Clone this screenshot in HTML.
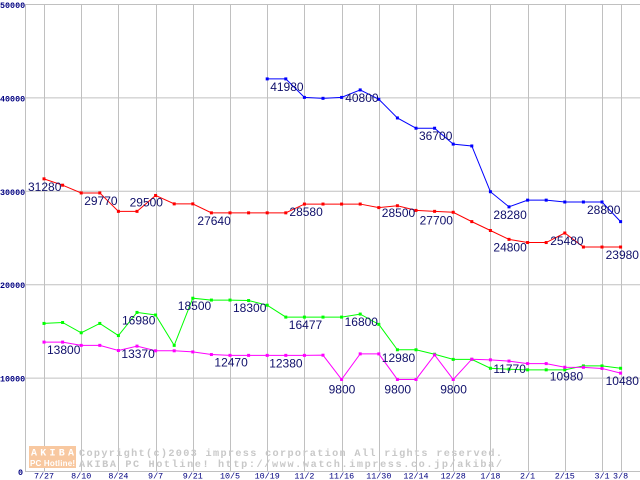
<!DOCTYPE html>
<html><head><meta charset="utf-8"><style>
html,body{margin:0;padding:0;background:#fff;}
svg{display:block;}
.lbl{font-family:"Liberation Sans",sans-serif;font-size:12px;fill:#10106a;}
.ytk{font-family:"Liberation Mono",monospace;font-size:8.4px;font-weight:bold;fill:#000080;}
.xtk{font-family:"Liberation Mono",monospace;font-size:8.4px;fill:#000080;}
.wm{font-family:"Liberation Mono",monospace;font-size:10.2px;font-weight:bold;fill:#c8c8c8;}
</style></head><body>
<svg id="chart" width="640" height="480" viewBox="0 0 640 480" xmlns="http://www.w3.org/2000/svg">
<g id="grid"></g>
<g id="wmark">
<rect x="29" y="446" width="47" height="11" fill="#f8c8a0"/>
<rect x="29" y="457" width="47" height="11" fill="#f8c8a0"/>
<text x="31" y="455.5" font-family="Liberation Mono,monospace" font-size="10px" font-weight="bold" fill="#fff" textLength="43">AKIBA</text>
<text x="30" y="466" font-family="Liberation Sans,sans-serif" font-size="8px" font-weight="bold" fill="#fff" textLength="45">PC Hotline!</text>
<text class="wm" x="79" y="456" textLength="423">Copyright(c)2003 impress corporation All rights reserved.</text>
<text class="wm" x="79" y="467" textLength="423">AKIBA PC Hotline!  http://www.watch.impress.co.jp/akiba/</text>
</g>
<g id="series"></g>
<g id="labels"></g>
</svg>
<script>
const categories=["7/27","","8/10","","8/24","","9/7","","9/21","","10/5","","10/19","","11/2","","11/16","","11/30","","12/14","","12/28","","1/18","","2/1","","2/15","","3/1","3/8"];
const xTickLabels=["7/27","8/10","8/24","9/7","9/21","10/5","10/19","11/2","11/16","11/30","12/14","12/28","1/18","2/1","2/15","3/1","3/8"];
const xTickIdx=[0,2,4,6,8,10,12,14,16,18,20,22,24,26,28,30,31];
const yTicks=[0,10000,20000,30000,40000,50000];
const blue=[null,null,null,null,null,null,null,null,null,null,null,null,41980,41980,40000,39900,40000,40800,39800,37800,36700,36700,35000,34800,29900,28280,29000,29000,28800,28800,28800,26700];
const red=[31280,30600,29770,29770,27800,27800,29500,28600,28600,27640,27640,27640,27640,27640,28580,28580,28580,28580,28200,28400,27900,27800,27700,26700,25750,24800,24460,24460,25480,23980,23980,23980];
const green=[15800,15900,14800,15800,14500,16980,16700,13450,18500,18300,18300,18250,17750,16477,16477,16477,16477,16800,15700,12980,12980,12500,11950,11950,11000,10900,10830,10830,10830,11250,11250,11000];
const magenta=[13800,13800,13450,13450,12900,13370,12870,12870,12750,12470,12380,12380,12380,12380,12380,12400,9800,12540,12540,9800,9800,12430,9800,11970,11900,11770,11500,11500,11110,11100,10980,10480];
const labelText=["31280","29770","29500","27640","28580","41980","40800","36700","28500","27700","24800","28280","25480","28800","23980","13800","16980","18500","18300","16477","13370","12470","12380","16800","12980","9800","9800","9800","11770","10980","10480"];
const labelIdx=[0,2,6,9,14,12,17,20,18,21,24,24,27,30,31,0,5,8,10,13,4,9,12,16,18,16,19,22,24,28,31];
const labelVal=[31280,29770,29500,27640,28580,41980,40800,36700,28500,27700,24800,28280,25480,28800,23980,13800,16980,18500,18300,16477,13370,12470,12380,16800,12980,9800,9800,9800,11770,10980,10480];
const labelDx=[-16,3,-26,-14,-15,3,-15,3,3,-15,3,3,4,-15,-15,3,-15,-15,3,3,3,3,2,3,3,-13,-13,-13,3,-15,-15];
const labelDy=[12,12,11,12,12,12,12,12,12,12,12,12,12,12,12,12,12,12,12,12,12,12,12,12,12,14,14,14,12,12,12];

const NS="http://www.w3.org/2000/svg";
const X0=44,STEP=18.6,Y0=471,YS=467/50000;
function xs(i){return X0+i*STEP;}
function ys(v){return Y0-v*YS;}
function mk(tag,attrs,parent){const e=document.createElementNS(NS,tag);for(const k in attrs)e.setAttribute(k,attrs[k]);parent.appendChild(e);return e;}
const grid=document.getElementById('grid');
yTicks.forEach(v=>{
  const l=mk('line',{x1:25,x2:640,y1:ys(v)+0.5,y2:ys(v)+0.5,stroke:'#c0c0c0','stroke-width':1},grid);
  
  
  const t=mk('text',{x:v===0?18:0,y:ys(v)+4,class:'ytk'},grid);
  t.textContent=String(v);
  
  
});
const ax=mk('line',{x1:25.5,x2:25.5,y1:4,y2:471,stroke:'#c0c0c0','stroke-width':1},grid);


xTickIdx.forEach((i,k)=>{
  const l=mk('line',{x1:Math.round(xs(i))+0.5,x2:Math.round(xs(i))+0.5,y1:4,y2:471,stroke:'#c0c0c0','stroke-width':1},grid);
  
  
  const t=mk('text',{x:xs(i),y:478.5,'text-anchor':'middle',class:'xtk'},grid);
  t.textContent=xTickLabels[k];
  
  
});
const sg=document.getElementById('series');
function drawSeries(data,color,name){
  let d='';let started=false;
  data.forEach((v,i)=>{if(v==null)return;d+=(started?'L':'M')+xs(i)+' '+ys(v);started=true;});
  const p=mk('path',{d:d,fill:'none',stroke:color,'stroke-width':1},sg);
  
  
  data.forEach((v,i)=>{if(v==null)return;
    const r=mk('rect',{x:xs(i)-1.5,y:ys(v)-1.5,width:3,height:3,fill:color},sg);
    
    
  });
}
drawSeries(blue,'#0000ff','blue-series');
drawSeries(red,'#ff0000','red-series');
drawSeries(green,'#00ff00','green-series');
drawSeries(magenta,'#ff00ff','magenta-series');
const lg=document.getElementById('labels');
labelText.forEach((s,k)=>{
  const t=mk('text',{x:xs(labelIdx[k])+labelDx[k],y:ys(labelVal[k])+labelDy[k],class:'lbl'},lg);
  t.textContent=s;
  
  
});
</script>
</body></html>
